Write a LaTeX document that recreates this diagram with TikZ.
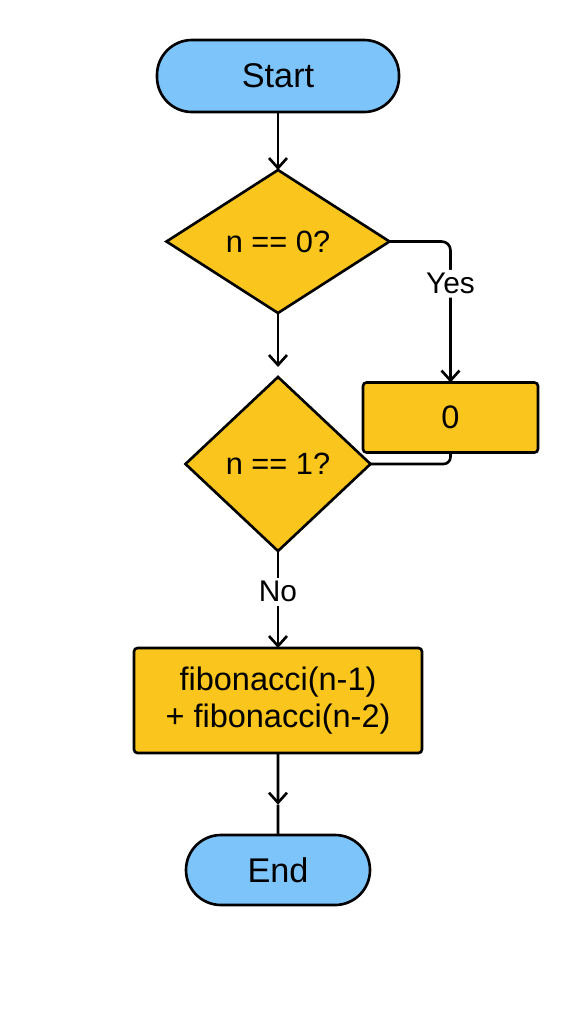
\documentclass[tikz,border=0pt]{standalone}
\usepackage{fontspec}
\setmainfont{Liberation Sans}
\usetikzlibrary{arrows.meta,positioning,shapes.geometric,calc}
\definecolor{skyblue}{RGB}{125,196,250}
\definecolor{sunyellow}{RGB}{250,197,28}
\tikzset{
  terminal/.style={rectangle, rounded corners=7mm, draw=black, line width=1.5pt, fill=skyblue,
                   outer sep=0pt, align=center, font=\fontsize{19.5}{22}\selectfont},
  decision/.style={diamond, draw=black, line width=1.5pt, fill=sunyellow, inner sep=0pt,
                   outer sep=0pt, font=\fontsize{17.5}{20}\selectfont},
  process/.style={rectangle, rounded corners=2pt, draw=black, line width=1.5pt, fill=sunyellow,
                  outer sep=0pt, align=center, font=\fontsize{18.5}{21.5}\selectfont},
  arrow/.style={-{Straight Barb[length=2mm,width=3.6mm]}, line width=1.5pt},
  plainline/.style={line width=1.5pt},
  answer/.style={fill=white, inner sep=2pt, font=\fontsize{17}{20}\selectfont},
}
\begin{document}
\begin{tikzpicture}
\useasboundingbox (0,0) rectangle (11.52,-20.48);
\node[terminal, minimum width=4.84cm, minimum height=1.44cm] (start) at (5.56,-1.52) {Start};
\node[decision, minimum width=4.46cm, minimum height=2.86cm, below=1.16cm of start] (d1) {n == 0?};
\node[decision, minimum width=3.7cm, minimum height=3.48cm, below=1.28cm of d1] (d2) {n == 1?};
\node[process, minimum width=3.5cm, minimum height=1.4cm] (zero) at ($(d1.east)+(1.22,-3.52)$) {0};
\node[process, minimum width=5.76cm, minimum height=2.1cm, below=1.94cm of d2] (fib)
  {fibonacci(n-1)\\+ fibonacci(n-2)};
\node[terminal, minimum width=3.68cm, minimum height=1.4cm, below=1.64cm of fib] (end) {End};
\coordinate (tip) at ($(fib.south)!0.63!(end.north)$);
\foreach \a/\b in {start/d1, fib/tip}
  \draw[arrow] (\a) -- (\b);
\draw[arrow, shorten >=2mm] (d1) -- (d2);
\draw[arrow] (d2) -- node[answer, pos=0.42] {No} (fib);
\draw[plainline] (tip) -- (end);
\draw[arrow, rounded corners=5pt] (d1.east) -| node[answer, pos=0.65] {Yes} (zero.north);
\draw[plainline, rounded corners=4pt] (zero.south) |- (d2.east);
\end{tikzpicture}
\end{document}
